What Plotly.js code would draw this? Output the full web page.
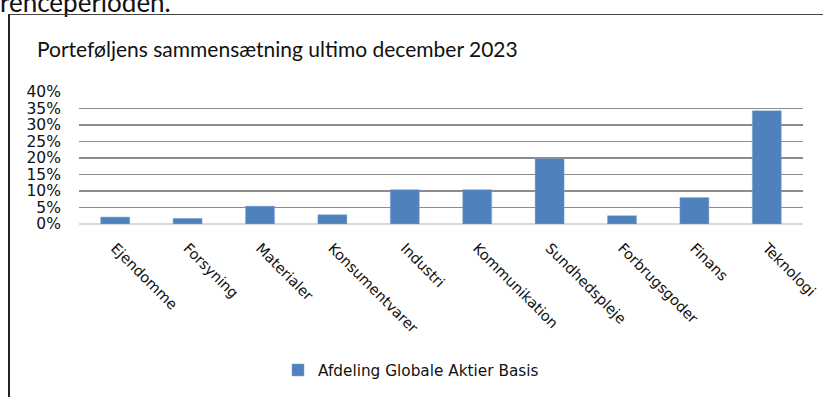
<!DOCTYPE html>
<html>
<head>
<meta charset="utf-8">
<script src="https://cdn.plot.ly/plotly-3.0.1.min.js"></script>
<style>
  html, body { margin: 0; padding: 0; width: 823px; height: 397px; overflow: hidden; background: #fff; }
  #head { position: absolute; left: 0; top: -12px; font-family: Lato, sans-serif; font-size: 26px; color: #111; white-space: nowrap; line-height: 28px; }
  #box { position: absolute; left: 8px; top: 14px; width: 830px; height: 400px; border-left: 2px solid #222; border-top: 1px solid #444; }
  #chart { position: absolute; left: 10px; top: 15px; width: 813px; height: 382px; }
</style>
</head>
<body>
<div id="head">renceperioden.</div>
<div id="box"></div>
<div id="chart"></div>
<script>
const categories = ["Ejendomme", "Forsyning", "Materialer", "Konsumentvarer", "Industri", "Kommunikation", "Sundhedspleje", "Forbrugsgoder", "Finans", "Teknologi"];
const values = [0.021, 0.017, 0.054, 0.028, 0.104, 0.104, 0.198, 0.025, 0.080, 0.343];
const seriesName = "Afdeling Globale Aktier Basis";
const chartTitle = "Porteføljens sammensætning ultimo december 2023";

const W = 813, H = 382;
const trace = {
  type: 'bar', x: categories, y: values, name: seriesName,
  marker: { color: '#4f81bd', line: { color: '#7ea4d4', width: 0.5 } },
  hoverinfo: 'x+y', showlegend: true
};
const layout = {
  width: W, height: H,
  margin: { l: 69, r: 20, t: 77, b: 173, pad: 0 },
  paper_bgcolor: 'rgba(0,0,0,0)', plot_bgcolor: 'rgba(0,0,0,0)',
  bargap: 0.6,
  title: { text: chartTitle, xref: 'container', yref: 'container', x: 27 / W, xanchor: 'left', y: 1 - 35 / H, yanchor: 'middle',
           font: { family: 'Lato, sans-serif', size: 21, color: '#111' } },
  xaxis: { type: 'category', tickangle: 45, ticks: 'outside', ticklen: 9, tickcolor: 'rgba(0,0,0,0)',
           tickfont: { family: 'DejaVu Sans, Verdana, sans-serif', size: 14.5, color: '#111' },
           showgrid: false, showline: false, zeroline: false, fixedrange: true },
  yaxis: { range: [0, 0.4], dtick: 0.05, tickformat: '.0%', ticks: 'outside', ticklen: 14, tickcolor: 'rgba(0,0,0,0)',
           tickfont: { family: 'DejaVu Sans, Verdana, sans-serif', size: 15.5, color: '#111' },
           showgrid: true, gridcolor: '#8c8c8c', gridwidth: 1.5,
           zeroline: true, zerolinecolor: '#d9d9d9', zerolinewidth: 2, showline: false, fixedrange: true },
  showlegend: true,
  legend: { orientation: 'h', xref: 'container', yref: 'container', x: 401 / W, xanchor: 'center', y: 1 - 355 / H, yanchor: 'middle',
            font: { family: 'DejaVu Sans, Verdana, sans-serif', size: 15.3, color: '#111' }, itemwidth: 30 }
};
Plotly.newPlot('chart', [trace], layout, { displayModeBar: false, staticPlot: true });
</script>
</body>
</html>
